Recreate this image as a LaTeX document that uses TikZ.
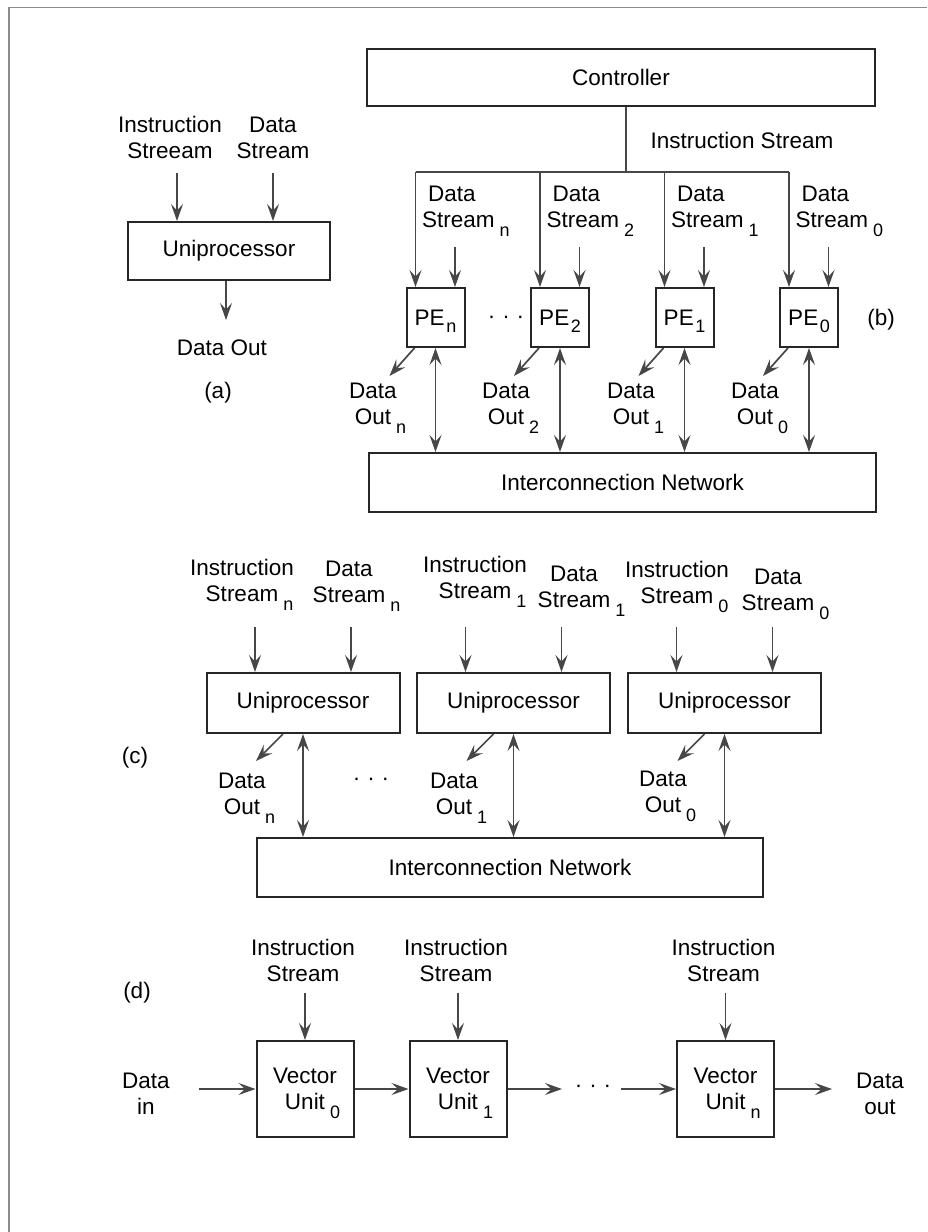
\documentclass[tikz,border=0pt]{standalone}
\usepackage{fontspec}
\setmainfont{Liberation Sans}
\usetikzlibrary{arrows.meta}

% lowered index set beside a word (no width, no height)
\newcommand{\lo}[1]{\rlap{\hspace{5pt}\smash{\raisebox{-9pt}{\fontsize{18}{18}\selectfont #1}}}}
% lowered index that takes part in the width (inside boxes)
\newcommand{\loin}[1]{\hspace{1.5pt}\smash{\raisebox{-7pt}{\fontsize{18}{18}\selectfont #1}}}
\newcommand{\threedots}{\textperiodcentered\hspace{7pt}\textperiodcentered\hspace{7pt}\textperiodcentered}

\tikzset{
  box/.style={draw=black!85, line width=2pt, inner sep=0pt, align=center,
              font=\fontsize{22.5}{26}\selectfont},
  txt/.style={font=\fontsize{22.5}{26}\selectfont, inner sep=0pt, align=center, text=black},
  txtl/.style={txt, align=left, anchor=west},
  tip/.tip={Stealth[length=17pt,width=12pt,inset=6.5pt]},
  wire/.style={draw=black!72, line width=1.7pt},
  arr/.style={wire, -tip},
  bi/.style={wire, tip-tip},
  frame/.style={draw=black!45, line width=1.2pt},
}

\begin{document}
\begin{tikzpicture}[x=1pt,y=-1pt]
\useasboundingbox (0,0) rectangle (927,1232);
\draw[frame] (9,1232) -- (9,7.5) -- (927,7.5);

% ---------- (a) single processor ----------
\node[box, minimum width=202pt, minimum height=58pt] (aup) at (229,251) {Uniprocessor};
\node[txt] (ain) at (170,137.5) {Instruction\\Streeam};
\node[txt] (ads) at (273,137.5) {Data\\Stream};
\coordinate (ainT) at (177,173);
\coordinate (adsT) at (273,173);
\draw[arr] (ainT) -- (ainT |- aup.north);
\draw[arr] (adsT) -- (adsT |- aup.north);
\node[txt] (aout) at (222,348) {Data Out};
\coordinate (aoutT) at (226,320);
\draw[arr] (aoutT |- aup.south) -- (aoutT);
\node[txt] (alab) at (218,393) {(a)};

% ---------- (b) array of processing elements ----------
\node[box, minimum width=508pt, minimum height=57pt] (ctl) at (621,77.5) {Controller};
\coordinate (bus) at (626,172);
\draw[wire] (bus |- ctl.south) -- (bus);
\node[txt] (bis) at (742,140) {Instruction Stream};
\node[box, minimum width=507pt, minimum height=59pt] (bnet) at (622.5,482.5) {Interconnection Network};

\foreach \c/\s/\nm/\ox in {435.5/n/pn/373, 560/2/p2/506, 684.5/1/p1/631, 809/0/p0/755} {
  \node[box, minimum width=58pt, minimum height=59pt] (\nm) at (\c,317.5) {PE\loin{\s}};
  \coordinate (\nm-it) at ([xshift=-20pt]\nm.north);
  \draw[arr] (\nm-it |- bus) -- (\nm-it);
  \node[txtl] (\nm-ds) at (\c-13.5,206.5) {\hspace*{6pt}Data\\Stream\lo{\s}};
  \coordinate (\nm-dt) at (\c+19.5,247);
  \draw[arr] (\nm-dt) -- (\nm-dt |- \nm.north);
  \coordinate (\nm-o0) at ([xshift=9pt]\nm.south west);
  \coordinate (\nm-o1) at (\c-46,376);
  \draw[arr] (\nm-o0) -- (\nm-o1);
  \node[txt] (\nm-do) at (\ox,404) {Data\\Out\lo{\s}};
  \draw[bi] (\nm.south) -- (\nm.south |- bnet.north);
}
\draw[wire] (pn-it |- bus) -- (p0-it |- bus);
\node[txt] (bdots) at (506,320) {\threedots};
\node[txt] (blab) at (881,320) {(b)};

% ---------- (c) several uniprocessors ----------
\node[box, minimum width=506pt, minimum height=59pt] (cnet) at (510,867.5) {Interconnection Network};
\foreach \c/\s/\nm/\ix/\iy/\dx/\dy/\ox/\oy in
   {303/n/cn/242/580/349/582/242/794,
    513.5/1/c1/475/577/574/587/454/794,
    724.5/0/c0/677/582/778/590/663/792} {
  \node[box, minimum width=193pt, minimum height=60pt] (\nm) at (\c,703) {Uniprocessor};
  \node[txt] (\nm-is) at (\ix,\iy) {Instruction\\Stream\lo{\s}};
  \node[txt] (\nm-ds) at (\dx,\dy) {Data\\Stream\lo{\s}};
  \coordinate (\nm-it) at (\c-48,627);
  \coordinate (\nm-dt) at (\c+48,627);
  \draw[arr] (\nm-it) -- (\nm-it |- \nm.north);
  \draw[arr] (\nm-dt) -- (\nm-dt |- \nm.north);
  \coordinate (\nm-o0) at ([xshift=-20pt]\nm.south);
  \coordinate (\nm-o1) at (\c-47,761);
  \draw[arr] (\nm-o0) -- (\nm-o1);
  \node[txt] (\nm-do) at (\ox,\oy) {Data\\Out\lo{\s}};
  \draw[bi] (\nm.south) -- (\nm.south |- cnet.north);
}
\node[txt] (cdots) at (371,782) {\threedots};
\node[txt] (clab) at (135,758) {(c)};

% ---------- (d) pipeline of vector units ----------
\foreach \c/\s/\nm in {305/0/v0, 458/1/v1, 725.5/n/vn} {
  \node[box, minimum width=97pt, minimum height=96pt] (\nm) at (\c,1089) {Vector\\Unit\lo{\s}};
  \node[txt] (\nm-is) at (\c-2,960) {Instruction\\Stream};
  \coordinate (\nm-it) at (\c,993);
  \draw[arr] (\nm-it) -- (\nm.north);
}
\node[txt] (dlab) at (137,993) {(d)};
\node[txt] (din) at (146,1094) {Data\\in};
\coordinate (dinE) at (199,1089);
\draw[arr] (dinE) -- (v0.west);
\draw[arr] (v0.east) -- (v1.west);
\coordinate (dd1) at (562,1089);
\draw[arr] (v1.east) -- (dd1);
\node[txt] (ddots) at (593,1089) {\threedots};
\coordinate (dd2) at (621,1089);
\draw[arr] (dd2) -- (vn.west);
\coordinate (doutW) at (832,1089);
\draw[arr] (vn.east) -- (doutW);
\node[txt] (dout) at (880,1094) {Data\\out};
\end{tikzpicture}
\end{document}
